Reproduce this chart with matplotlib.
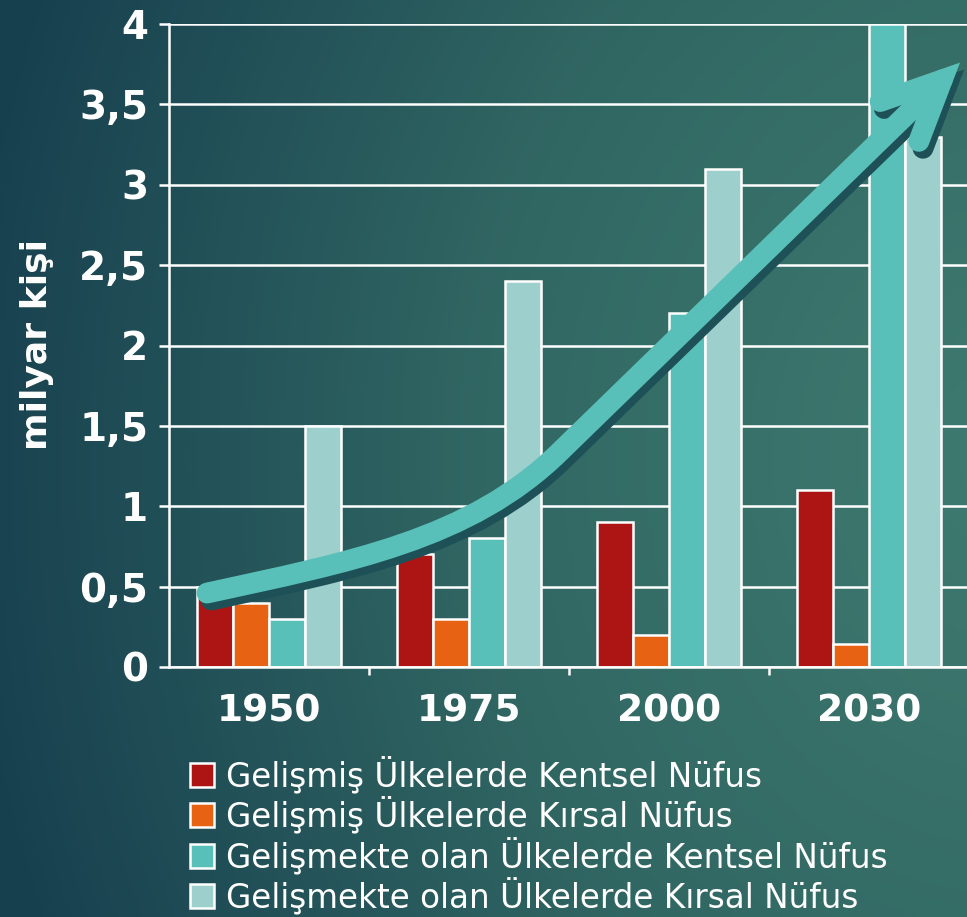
import matplotlib
matplotlib.use("Agg")
import matplotlib.pyplot as plt
import numpy as np
from matplotlib.colors import LinearSegmentedColormap
from matplotlib.patches import FancyArrowPatch
from matplotlib.path import Path
from matplotlib.transforms import offset_copy

years = ["1950", "1975", "2000", "2030"]
series_names = [
    "Gelişmiş Ülkelerde Kentsel Nüfus",
    "Gelişmiş Ülkelerde Kırsal Nüfus",
    "Gelişmekte olan Ülkelerde Kentsel Nüfus",
    "Gelişmekte olan Ülkelerde Kırsal Nüfus",
]
developed_urban = [0.5, 0.7, 0.9, 1.1]
developed_rural = [0.4, 0.3, 0.2, 0.14]
developing_urban = [0.3, 0.8, 2.2, 4.0]
developing_rural = [1.5, 2.4, 3.1, 3.3]
colors = ["#AD1515", "#E86214", "#58C0B8", "#9DD0CC"]
y_ticks = [0, 0.5, 1, 1.5, 2, 2.5, 3, 3.5, 4]
y_tick_labels = ["0", "0,5", "1", "1,5", "2", "2,5", "3", "3,5", "4"]

# decorative trend arrow: bezier start, two controls, bend point, tip (data units)
trend_pts = [(-0.31, 0.46), (0.39, 0.65), (1.005, 0.79), (1.455, 1.34), (3.455, 3.76)]

fig = plt.figure(figsize=(9.67, 9.17), dpi=100)

# background gradient, lightest toward the right middle
bg = fig.add_axes([0, 0, 1, 1], zorder=-10)
gx, gy = np.meshgrid(np.linspace(0, 1, 300), np.linspace(0, 1, 300))
dist = np.sqrt((gx - 1.05) ** 2 + (0.8 * (gy - 0.5)) ** 2)
grad = np.clip(1 - dist / 1.1, 0, 1)
cmap = LinearSegmentedColormap.from_list("bg", ["#17404F", "#316763", "#3F7B70"])
bg.imshow(grad, cmap=cmap, aspect="auto", extent=[0, 1, 0, 1], origin="upper",
          vmin=0, vmax=1)
bg.axis("off")

ax = fig.add_axes([169 / 967, 1 - 667 / 917, 800 / 967, 643 / 917])
ax.patch.set_alpha(0)

values = [developed_urban, developed_rural, developing_urban, developing_rural]
x = np.arange(len(years))
w = 0.18
handles = []
for i, (vals, c) in enumerate(zip(values, colors)):
    b = ax.bar(x + (i - 1.5) * w, vals, width=w, color=c, edgecolor="white",
               linewidth=1.8, zorder=3, label=series_names[i])
    handles.append(b)

ax.set_xlim(-0.5, 3.5)
ax.set_ylim(0, 4)
ax.set_yticks(y_ticks)
ax.set_yticklabels(y_tick_labels)
ax.set_xticks(x)
ax.set_xticklabels(years)
ax.set_xticks([0.5, 1.5, 2.5], minor=True)
ax.grid(axis="y", color="white", linewidth=1.8, zorder=1)
ax.set_axisbelow(True)

for s in ["top", "right"]:
    ax.spines[s].set_visible(False)
for s in ["left", "bottom"]:
    ax.spines[s].set_color("white")
    ax.spines[s].set_linewidth(1.8)
    ax.spines[s].set_zorder(4)

ax.tick_params(axis="y", colors="white", length=7, width=1.8, pad=8,
               labelsize=28)
ax.tick_params(axis="x", which="major", length=0, pad=19, labelsize=27,
               labelcolor="white")
ax.tick_params(axis="x", which="minor", length=6, width=1.8, color="white")
for lab in ax.get_yticklabels() + ax.get_xticklabels():
    lab.set_fontweight("bold")

fig.text(37 / 967, 1 - 345 / 917, "milyar kişi", rotation=90, color="white",
         fontsize=26, fontweight="bold", ha="center", va="center")

# trend arrow with shadow
path = Path(trend_pts, [Path.MOVETO, Path.CURVE4, Path.CURVE4, Path.CURVE4,
                        Path.LINETO])
shadow_tr = offset_copy(ax.transData, fig=fig, x=3, y=-5, units="points")
for tr, col, z in [(shadow_tr, "#1E5157", 5), (ax.transData, "#58C0B8", 6)]:
    arr = FancyArrowPatch(path=path, arrowstyle="->,head_length=4.3,head_width=2.0",
                          mutation_scale=10, color=col, linewidth=15,
                          transform=tr, zorder=z, capstyle="round",
                          joinstyle="miter", clip_on=False)
    ax.add_patch(arr)

leg = fig.legend(handles=handles, loc="upper left",
                 bbox_to_anchor=(190 / 967, 1 - 756 / 917), frameon=False,
                 prop={"family": "DejaVu Sans", "size": 23.5},
                 handlelength=0.75, handleheight=0.75, handletextpad=0.35,
                 labelspacing=0.08, borderpad=0, borderaxespad=0)
for t in leg.get_texts():
    t.set_color("white")

fig.savefig("out.png", dpi=100)
